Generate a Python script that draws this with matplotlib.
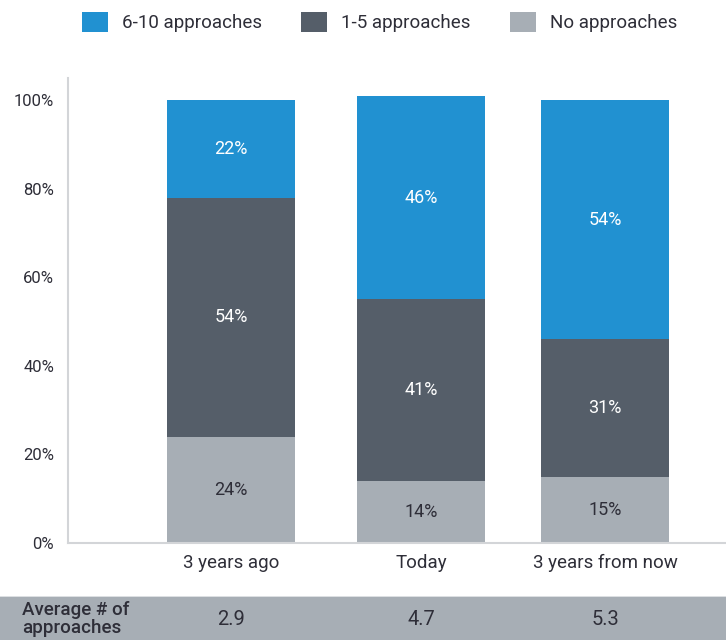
import matplotlib
matplotlib.use("Agg")
import matplotlib.pyplot as plt
from matplotlib.patches import Rectangle

plt.rcParams["font.family"] = ["Roboto", "DejaVu Sans"]

periods = ["3 years ago", "Today", "3 years from now"]
no_approaches = [24, 14, 15]
few_approaches = [54, 41, 31]
many_approaches = [22, 46, 54]
average_count = ["2.9", "4.7", "5.3"]
y_ticks = [0, 20, 40, 60, 80, 100]

blue = "#2191d1"
dark = "#555e69"
light = "#a7aeb5"
text_col = "#2e2e38"

fig = plt.figure(figsize=(7.26, 6.4), dpi=100)
ax = fig.add_axes([68 / 726, 97 / 640, 1 - 68 / 726, 465 / 640])

# bar slots, the middle one sits a touch right of centre
x = [0, 1.016, 2]
width = 0.684
bottom2 = no_approaches
bottom3 = [a + b for a, b in zip(no_approaches, few_approaches)]

ax.bar(x, no_approaches, width, color=light, label="No approaches")
ax.bar(x, few_approaches, width, bottom=bottom2, color=dark, label="1-5 approaches")
ax.bar(x, many_approaches, width, bottom=bottom3, color=blue, label="6-10 approaches")

# segment labels
for i, xi in enumerate(x):
    ax.text(xi, no_approaches[i] / 2, f"{no_approaches[i]}%", ha="center", va="center",
            color=text_col, fontsize=13)
    ax.text(xi, bottom2[i] + few_approaches[i] / 2, f"{few_approaches[i]}%", ha="center",
            va="center", color="white", fontsize=13)
    ax.text(xi, bottom3[i] + many_approaches[i] / 2, f"{many_approaches[i]}%", ha="center",
            va="center", color="white", fontsize=13)

ax.set_xlim(-0.872, 2.647)
ax.set_ylim(0, 105)
ax.set_yticks(y_ticks)
ax.set_yticklabels([f"{t}%" for t in y_ticks])
ax.set_xticks(x)
ax.set_xticklabels(periods)
ax.tick_params(axis="both", length=0, colors=text_col)
ax.tick_params(axis="y", pad=10, labelsize=12)
ax.tick_params(axis="x", pad=8, labelsize=13.5)
for side in ["top", "right"]:
    ax.spines[side].set_visible(False)
for side in ["left", "bottom"]:
    ax.spines[side].set_color("#d3d5d8")
    ax.spines[side].set_linewidth(1.5)

# legend across the top, swatch order as shown
handles, labels = ax.get_legend_handles_labels()
fig.legend(handles[::-1], labels[::-1], loc="center", bbox_to_anchor=(0.523, 1 - 22 / 640),
           ncol=3, frameon=False, fontsize=13.5, handlelength=1.39, handleheight=1.28,
           handletextpad=0.75, columnspacing=2.08, labelcolor=text_col)

# grey band with the averages
fig.patches.append(Rectangle((0, 0), 1, 43 / 640, transform=fig.transFigure,
                             facecolor=light, edgecolor="none", zorder=-1))
fig.patches.append(Rectangle((0, 43 / 640), 1, 1.5 / 640, transform=fig.transFigure,
                             facecolor="#dcdfe2", edgecolor="none", zorder=-1))
band = fig.add_axes([68 / 726, 0, 1 - 68 / 726, 43 / 640], zorder=2)
band.set_xlim(ax.get_xlim())
band.set_ylim(0, 1)
band.axis("off")
for i, xi in enumerate(x):
    band.text(xi, 0.47, average_count[i], ha="center", va="center", fontsize=14.5, color=text_col)
fig.text(22 / 726, 21 / 640, "Average # of\napproaches", ha="left", va="center",
         fontsize=13.5, color=text_col, fontweight="medium", linespacing=1.0)

fig.savefig("out.png", dpi=100)
